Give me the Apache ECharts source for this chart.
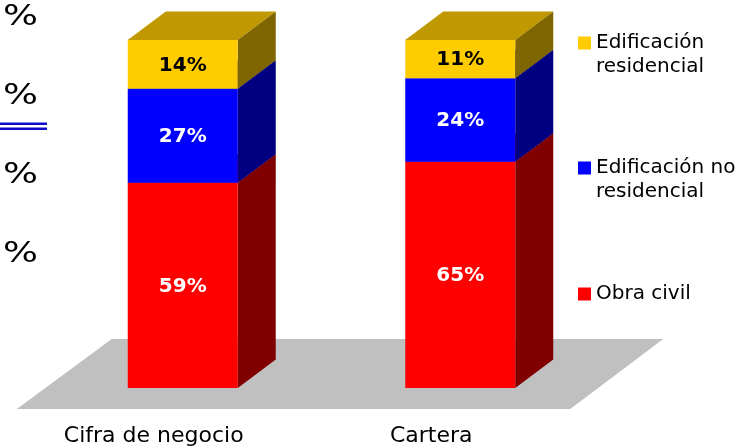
<!DOCTYPE html>
<html>
<head>
<meta charset="utf-8">
<script src="https://cdn.jsdelivr.net/npm/echarts@6/dist/echarts.min.js"></script>
<style>
  html, body { margin: 0; padding: 0; background: #fff; }
  #chart { width: 742px; height: 448px; }
</style>
</head>
<body>
<div id="chart"></div>
<script>
const categories = ["Cifra de negocio", "Cartera"];
const obraCivil = [59, 65];
const edifNoResidencial = [27, 24];
const edifResidencial = [14, 11];
const sideMarks = ["%", "%", "%", "%"];

const BAR_W = 110;
const DX = 38, DY = 28.5;
const FONT = "DejaVu Sans, Verdana, sans-serif";

// stack the three segments, bottom to top
function stacked(values, below) {
  return values.map((v, i) => {
    const base = below.reduce((s, arr) => s + arr[i], 0);
    return [i, base, base + v, v];
  });
}

function segmentRenderer(front, side, top, labelColor) {
  return function (params, api) {
    const cat = api.value(0);
    const pLo = api.coord([cat, api.value(1)]);
    const pHi = api.coord([cat, api.value(2)]);
    const x0 = pLo[0] - BAR_W / 2, x1 = pLo[0] + BAR_W / 2;
    const yb = pLo[1], yt = pHi[1];
    return {
      type: "group",
      children: [
        {
          type: "polygon",
          shape: { points: [[x0, yt], [x1, yt], [x1 + DX, yt - DY], [x0 + DX, yt - DY]] },
          style: { fill: top }
        },
        {
          type: "polygon",
          shape: { points: [[x1, yb], [x1, yt], [x1 + DX, yt - DY], [x1 + DX, yb - DY]] },
          style: { fill: side }
        },
        {
          type: "rect",
          shape: { x: x0, y: yt, width: BAR_W, height: yb - yt },
          style: { fill: front }
        },
        {
          type: "text",
          x: (x0 + x1) / 2,
          y: (yt + yb) / 2 + 1,
          style: {
            text: api.value(3) + "%",
            fill: labelColor,
            font: "bold 20px " + FONT,
            align: "center",
            verticalAlign: "middle"
          }
        }
      ]
    };
  };
}

function floorRenderer(params, api) {
  const pA = api.coord([0, 0]);
  const pB = api.coord([categories.length - 1, 0]);
  const lx = pA[0] - BAR_W / 2, rx = pB[0] + BAR_W / 2, y0 = pA[1];
  return {
    type: "polygon",
    shape: { points: [[lx - 16, y0 - 49], [rx + 148, y0 - 49], [rx + 55, y0 + 21], [lx - 111, y0 + 21]] },
    style: { fill: "#c0c0c0" }
  };
}

const legendText = {
  color: "#000",
  fontFamily: FONT,
  fontSize: 20,
  lineHeight: 24
};

const chart = echarts.init(document.getElementById("chart"), null, { renderer: "canvas" });

const option = {
  backgroundColor: "#fff",
  animation: false,
  grid: { left: 44, width: 555, top: 40, bottom: 60 },
  xAxis: {
    type: "category",
    data: categories,
    axisLine: { show: false },
    axisTick: { show: false },
    axisLabel: {
      color: "#000",
      fontFamily: FONT,
      fontSize: 22,
      margin: 37,
      padding: [0, 58, 0, 0]
    }
  },
  yAxis: { type: "value", min: 0, max: 100, show: false },
  legend: [
    {
      data: ["Edificación residencial"],
      left: 578, top: 7, padding: 0,
      icon: "rect", itemWidth: 13, itemHeight: 13,
      // leading blank line keeps the icon beside the first line
      formatter: () => " \nEdificación\nresidencial",
      textStyle: legendText
    },
    {
      data: ["Edificación no residencial"],
      left: 578, top: 132, padding: 0,
      icon: "rect", itemWidth: 13, itemHeight: 13,
      formatter: () => " \nEdificación no\nresidencial",
      textStyle: legendText
    },
    {
      data: ["Obra civil"],
      left: 578, top: 282, padding: 0,
      icon: "rect", itemWidth: 13, itemHeight: 13,
      textStyle: legendText
    }
  ],
  graphic: [
    ...sideMarks.map((m, i) => ({
      type: "text",
      x: 38,
      y: 17 + i * 79,
      scaleX: 1.27,
      style: { text: m, fill: "#000", font: "29px " + FONT, align: "right", verticalAlign: "middle" }
    })),
    { type: "line", shape: { x1: 0, y1: 123.8, x2: 47, y2: 123.8 }, style: { stroke: "#0a0ac8", lineWidth: 2.5 } },
    { type: "line", shape: { x1: 0, y1: 128.8, x2: 47, y2: 128.8 }, style: { stroke: "#0a0ac8", lineWidth: 2.5 } }
  ],
  series: [
    {
      type: "custom",
      name: "floor",
      silent: true,
      z: 1,
      data: [[0]],
      renderItem: floorRenderer
    },
    {
      type: "custom",
      name: "Obra civil",
      z: 2,
      itemStyle: { color: "#ff0000" },
      data: stacked(obraCivil, []),
      renderItem: segmentRenderer("#ff0000", "#800000", "#c00000", "#fff")
    },
    {
      type: "custom",
      name: "Edificación no residencial",
      z: 3,
      itemStyle: { color: "#0000ff" },
      data: stacked(edifNoResidencial, [obraCivil]),
      renderItem: segmentRenderer("#0000ff", "#000080", "#0000c0", "#fff")
    },
    {
      type: "custom",
      name: "Edificación residencial",
      z: 4,
      itemStyle: { color: "#ffcc00" },
      data: stacked(edifResidencial, [obraCivil, edifNoResidencial]),
      renderItem: segmentRenderer("#ffcc00", "#806600", "#c09900", "#000")
    }
  ]
};

chart.setOption(option);
window.addEventListener("resize", () => chart.resize());
</script>
</body>
</html>
